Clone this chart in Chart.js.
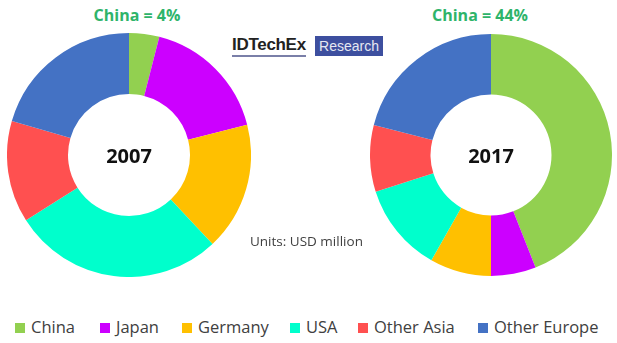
<!DOCTYPE html>
<html>
<head>
<meta charset="utf-8">
<script src="https://cdn.jsdelivr.net/npm/chart.js@4.4.1/dist/chart.umd.min.js"></script>
<style>
  html, body { margin: 0; padding: 0; background: #fff; }
  #wrap { position: relative; width: 617px; height: 343px; overflow: hidden; font-family: "Open Sans", sans-serif; }
  .box { position: absolute; }
  .title { position: absolute; top: 4px; width: 160px; text-align: center; font-weight: bold; font-size: 16px; color: #2EB46A; line-height: 22px; }
  #logo { position: absolute; left: 232px; top: 35px; height: 22px; }
  #logo .idt { position: absolute; left: 0; top: 0; font-family: "Liberation Sans", Arial, sans-serif; font-weight: bold; font-size: 17px; letter-spacing: -0.3px; color: #222; line-height: 20px; border-bottom: 2px solid #7a7fa8; }
  #logo .res { position: absolute; left: 83px; top: 1px; width: 68px; height: 20px; background: #3D4F9F; color: #e6e8f2; font-family: "Liberation Sans", Arial, sans-serif; font-size: 14px; line-height: 20px; text-align: center; }
  #units { position: absolute; left: 250px; top: 232px; font-size: 13.5px; color: #404040; line-height: 18px; }
  #legend { position: absolute; left: 0; top: 316px; width: 617px; height: 22px; }
  .li { position: absolute; top: 0; height: 22px; line-height: 22px; font-size: 16.5px; color: #404040; white-space: nowrap; }
  .li span.sw { display: inline-block; width: 10px; height: 10px; margin-right: 6px; vertical-align: 0px; }
</style>
</head>
<body>
<div id="wrap">
  <div class="title" id="t1" style="left:57px;"></div>
  <div class="title" id="t2" style="left:400px;"></div>
  <div id="logo"><div class="idt">IDTechEx</div><div class="res">Research</div></div>
  <div class="box" style="left:7px; top:33px; width:244px; height:244px;"><canvas id="c1"></canvas></div>
  <div class="box" style="left:370px; top:34px; width:242px; height:242px;"><canvas id="c2"></canvas></div>
  <div id="units">Units: USD million</div>
  <div id="legend"></div>
</div>
<script>
const categories = ['China', 'Japan', 'Germany', 'USA', 'Other Asia', 'Other Europe'];
const share2007 = [4, 17, 17, 28, 13.5, 20.5];
const share2017 = [44, 6, 8.2, 11.9, 8.9, 21];
const years = ['2007', '2017'];
const chinaLabels = ['China = 4%', 'China = 44%'];
const colors = ['#92D050', '#CC00FF', '#FFC000', '#00FFCC', '#FF5050', '#4472C4'];
const legendX = [15, 100, 182, 290, 358, 478];

document.getElementById('t1').textContent = chinaLabels[0];
document.getElementById('t2').textContent = chinaLabels[1];

const legend = document.getElementById('legend');
categories.forEach((c, i) => {
  const d = document.createElement('div');
  d.className = 'li';
  d.style.left = legendX[i] + 'px';
  const sw = document.createElement('span');
  sw.className = 'sw';
  sw.style.background = colors[i];
  d.appendChild(sw);
  d.appendChild(document.createTextNode(c));
  legend.appendChild(d);
});

const centerText = {
  id: 'centerText',
  afterDraw(chart, args, opts) {
    const meta = chart.getDatasetMeta(0);
    const arc = meta.data[0];
    if (!arc) return;
    const ctx = chart.ctx;
    ctx.save();
    ctx.font = 'bold 20px "Open Sans", sans-serif';
    ctx.fillStyle = '#111';
    ctx.textAlign = 'center';
    ctx.textBaseline = 'middle';
    ctx.fillText(opts.text, arc.x, arc.y + 2);
    ctx.restore();
  }
};

function makeChart(id, values, year) {
  new Chart(document.getElementById(id), {
    type: 'doughnut',
    data: {
      labels: categories,
      datasets: [{ data: values, backgroundColor: colors, borderWidth: 0 }]
    },
    options: {
      responsive: true,
      maintainAspectRatio: false,
      animation: false,
      cutout: '50%',
      layout: { padding: 0 },
      plugins: {
        legend: { display: false },
        tooltip: { enabled: false },
        centerText: { text: year }
      }
    },
    plugins: [centerText]
  });
}
makeChart('c1', share2007, years[0]);
makeChart('c2', share2017, years[1]);
</script>
</body>
</html>
